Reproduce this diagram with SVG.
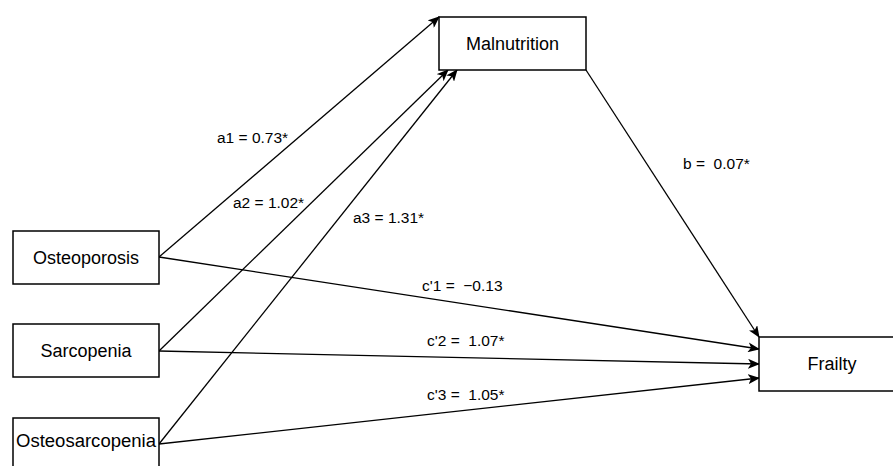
<svg xmlns="http://www.w3.org/2000/svg" width="893" height="466" viewBox="0 0 893 466">
<style>
.box{fill:#fff;stroke:#000;stroke-width:1.5}
.bt{font-family:"Liberation Sans",Arial,sans-serif;font-size:18px;fill:#000;text-anchor:middle;dominant-baseline:central}
.lb{font-family:"Liberation Sans",Arial,sans-serif;font-size:15.5px;fill:#000;white-space:pre}
.ed{stroke:#000;stroke-width:1.3;fill:none;marker-end:url(#ah)}
</style>
<defs>
<marker id="ah" viewBox="0 0 12 10" refX="11" refY="5" markerWidth="12" markerHeight="10" markerUnits="userSpaceOnUse" orient="auto">
<path d="M0,0 L12,5 L0,10 L3,5 z" fill="#000"/>
</marker>
</defs>
<rect width="893" height="466" fill="#fff"/>
<g id="connectors">
<line class="ed" x1="159" y1="257" x2="439" y2="17"/>
<line class="ed" x1="159" y1="351" x2="448" y2="70"/>
<line class="ed" x1="159" y1="444" x2="457" y2="70"/>
<line class="ed" x1="586" y1="70" x2="759" y2="337"/>
<line class="ed" x1="159" y1="257" x2="759" y2="349"/>
<line class="ed" x1="159" y1="351" x2="759" y2="364"/>
<line class="ed" x1="159" y1="444" x2="759" y2="378"/>
</g>
<g id="labels">
<text class="lb" x="217" y="143">a1 = 0.73*</text>
<text class="lb" x="233" y="208">a2 = 1.02*</text>
<text class="lb" x="353" y="223">a3 = 1.31*</text>
<text class="lb" x="683" y="169">b =  0.07*</text>
<text class="lb" x="422" y="291">c'1 =  −0.13</text>
<text class="lb" x="427" y="346">c'2 =  1.07*</text>
<text class="lb" x="427" y="400">c'3 =  1.05*</text>
</g>
<g id="malnutrition"><rect class="box" x="439" y="17" width="147" height="53"/><text class="bt" x="512.5" y="44">Malnutrition</text></g>
<g id="osteoporosis"><rect class="box" x="13" y="231" width="146" height="53"/><text class="bt" x="86" y="258">Osteoporosis</text></g>
<g id="sarcopenia"><rect class="box" x="13" y="324" width="146" height="53"/><text class="bt" x="86" y="351">Sarcopenia</text></g>
<g id="osteosarcopenia"><rect class="box" x="13" y="418" width="146" height="53"/><text class="bt" x="86" y="441" textLength="140" lengthAdjust="spacingAndGlyphs">Osteosarcopenia</text></g>
<g id="frailty"><rect class="box" x="759" y="337" width="146" height="54"/><text class="bt" x="832" y="364">Frailty</text></g>
</svg>
